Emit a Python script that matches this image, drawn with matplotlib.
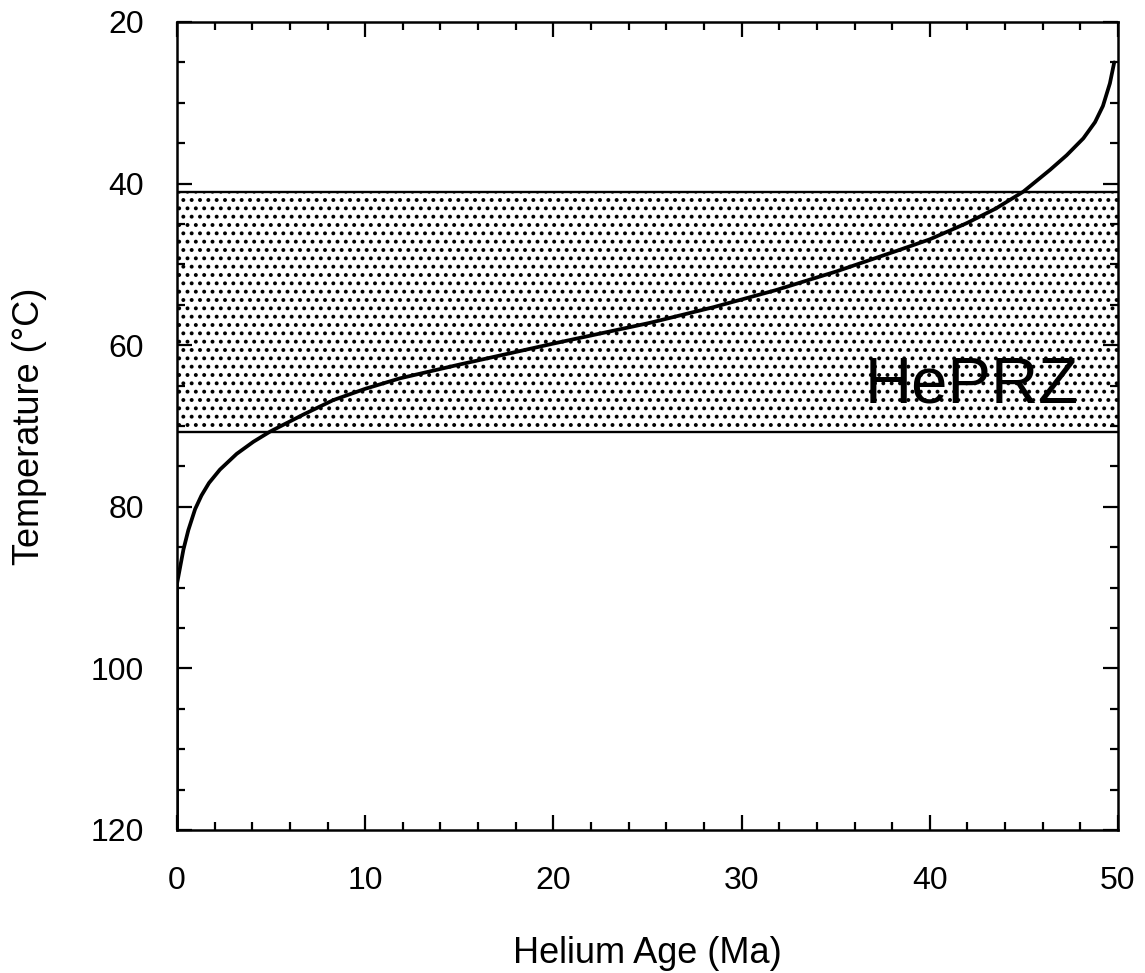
import numpy as np
import matplotlib
matplotlib.use("Agg")
import matplotlib.pyplot as plt

plt.rcParams['font.family'] = ['Liberation Sans', 'DejaVu Sans']
plt.rcParams['hatch.linewidth'] = 1.6

# Helium age (Ma) versus temperature (°C)
age = [0.0, 0.0, 0.07, 0.34, 0.6, 0.96, 1.3, 1.7, 2.28, 3.17, 4.06, 4.94,
       6.7, 8.3, 10.0, 11.85, 15.0, 20.0, 25.1, 28.5, 31.8, 35.0, 38.4,
       40.0, 41.96, 43.5, 44.97, 46.39, 47.27, 48.16, 48.78, 49.2, 49.57,
       49.8]
temp = [120.0, 89.5, 88.65, 85.3, 82.9, 80.3, 78.6, 77.05, 75.4, 73.45,
        71.95, 70.7, 68.6, 66.8, 65.4, 64.1, 62.4, 59.8, 57.25, 55.3, 53.2,
        50.9, 48.2, 46.9, 44.9, 43.1, 41.0, 38.3, 36.5, 34.4, 32.4, 30.4,
        27.6, 25.0]

# Helium partial retention zone limits (°C)
prz_top = 41.0
prz_bottom = 70.7
prz_label = "HePRZ"

xticks_major = [0, 10, 20, 30, 40, 50]
yticks_major = [20, 40, 60, 80, 100, 120]

fig = plt.figure(figsize=(11.45, 9.73), dpi=100)
ax = fig.add_axes([0.1546, 0.1470, 0.8218, 0.8304])

ax.axhspan(prz_top, prz_bottom, facecolor='white', edgecolor='black',
           hatch='..', linewidth=0, zorder=1)
ax.axhline(prz_top, color='black', lw=1.7, zorder=2)
ax.axhline(prz_bottom, color='black', lw=1.7, zorder=2)

ax.plot(age, temp, color='black', lw=2.7, solid_capstyle='round',
        solid_joinstyle='round', zorder=3)

ax.text(42.2, 65.0, prz_label, fontsize=47, ha='center', va='center',
        color='black', zorder=4)

ax.set_xlim(0, 50)
ax.set_ylim(120, 20)
ax.set_xticks(xticks_major)
ax.set_xticks(np.arange(0, 51, 2), minor=True)
ax.set_yticks(yticks_major)
ax.set_yticks(np.arange(20, 121, 5), minor=True)

ax.tick_params(which='both', direction='in', top=True, right=True,
               width=1.6, colors='black')
ax.tick_params(which='major', length=11)
ax.tick_params(which='minor', length=6)
ax.tick_params(axis='x', which='major', pad=26, labelsize=23)
ax.tick_params(axis='y', which='major', pad=24, labelsize=23)

for s in ax.spines.values():
    s.set_linewidth(1.8)

ax.set_xlabel("Helium Age (Ma)", fontsize=26)
ax.set_ylabel("Temperature (°C)", fontsize=26)
ax.xaxis.set_label_coords(0.5, -0.131)
ax.yaxis.set_label_coords(-0.138, 0.5)

fig.savefig("out.png", dpi=100, facecolor='white')
